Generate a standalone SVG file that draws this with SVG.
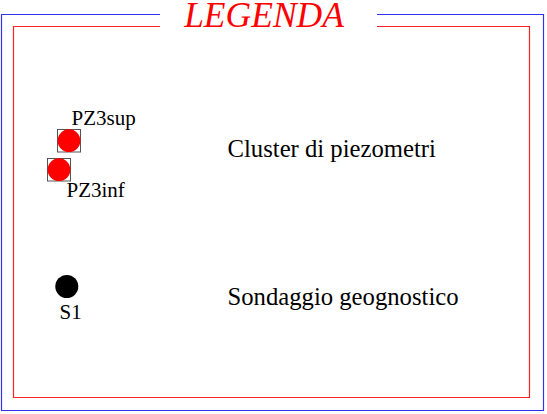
<svg xmlns="http://www.w3.org/2000/svg" width="547" height="414" viewBox="0 0 547 414">
<style>
.t{font-family:"Liberation Serif","Times New Roman",serif;fill:#000}
.lbl{font-size:21px}
.desc{font-size:24.7px}
.title{font-family:"Liberation Serif","Times New Roman",serif;font-style:italic;font-size:35.5px;fill:#ff0000}
.box{fill:none;stroke:#555;stroke-width:1}
.pz{fill:#ff0000}
</style>
<rect width="547" height="414" fill="#ffffff"/>
<g id="frame">
<path d="M160,14.5 H1.5 V410.5 H543.5 V14.5 H377" fill="none" stroke="#3333ee" stroke-width="1.2"/>
<path d="M160,26.5 H13.5 V397.5 H529.5 V26.5 H377" fill="none" stroke="#ff2222" stroke-width="1.2"/>
<text class="title" x="264" y="27.3" text-anchor="middle">LEGENDA</text>
</g>
<g id="connectors"></g>
<g id="PZ3sup">
<rect class="box" x="57.5" y="129.5" width="23" height="22.5"/>
<circle class="pz" cx="69" cy="140.7" r="11.4"/>
<text class="t lbl" x="71.5" y="125">PZ3sup</text>
</g>
<g id="PZ3inf">
<rect class="box" x="47.5" y="158.5" width="23" height="22.5"/>
<circle class="pz" cx="59" cy="169.7" r="11.4"/>
<text class="t lbl" x="66.5" y="197">PZ3inf</text>
</g>
<g id="S1">
<circle cx="66.8" cy="286.5" r="11.5" fill="#000"/>
<text class="t lbl" x="59.5" y="318.5">S1</text>
</g>
<g id="legend-text">
<text class="t desc" x="227.5" y="157">Cluster di piezometri</text>
<text class="t desc" x="227.5" y="305">Sondaggio geognostico</text>
</g>
</svg>
